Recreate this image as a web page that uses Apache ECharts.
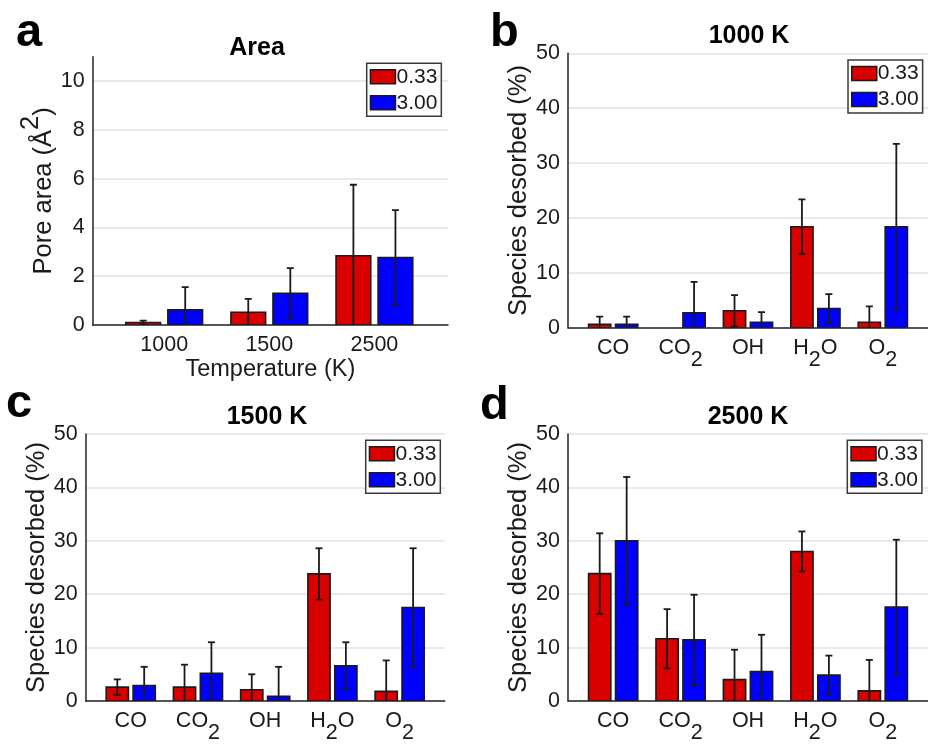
<!DOCTYPE html>
<html><head><meta charset="utf-8">
<script src="https://cdn.jsdelivr.net/npm/echarts@6/dist/echarts.min.js"></script>
<style>html,body{margin:0;padding:0;background:#fff}#c{width:928px;height:744px}</style>
</head><body><div id="c"></div>
<script>
// ---------- data ----------
const temperatures = ['1000', '1500', '2500'];
const areaMean033 = [0.10, 0.52, 2.84];
const areaErr033  = [0.08, 0.55, 2.91];
const areaMean300 = [0.62, 1.30, 2.77];
const areaErr300  = [0.93, 1.03, 1.94];

const species = ['CO', 'CO2', 'OH', 'H2O', 'O2'];
const k1000Mean033 = [0.6, 0, 3.1, 18.4, 1.0];
const k1000Err033  = [1.4, 0, 2.85, 5.0, 2.9];
const k1000Mean300 = [0.6, 2.7, 1.0, 3.5, 18.4];
const k1000Err300  = [1.4, 5.65, 1.85, 2.6, 15.1];

const k1500Mean033 = [2.6, 2.6, 2.1, 23.8, 1.8];
const k1500Err033  = [1.45, 4.2, 2.9, 4.8, 5.8];
const k1500Mean300 = [2.9, 5.2, 0.9, 6.6, 17.5];
const k1500Err300  = [3.5, 5.8, 5.5, 4.4, 11.1];

const k2500Mean033 = [23.85, 11.65, 4.0, 28.0, 1.9];
const k2500Err033  = [7.55, 5.55, 5.6, 3.75, 5.8];
const k2500Mean300 = [30.0, 11.45, 5.5, 4.85, 17.6];
const k2500Err300  = [11.95, 8.45, 6.9, 3.65, 12.6];

const ratioNames = ['0.33', '3.00'];
const panelTitles = ['Area', '1000 K', '1500 K', '2500 K'];
const panelLetters = ['a', 'b', 'c', 'd'];

// ---------- style ----------
const FONT = '"Liberation Sans", Arial, Helvetica, sans-serif';
const RED = '#d90000', BLUE = '#0000ff';
const EDGE = '#1a1a1a';
const BW = 0.33, OFF = 0.2, CAP = 3.5;
const TICK_FS = 21.5, NAME_FS = 25.5, XNAME_FS = 23.5, TITLE_FS = 25;

function barSeries(idx, name, color, means, errs, offset) {
  return {
    type: 'custom', name: name, xAxisIndex: idx, yAxisIndex: idx, clip: true,
    itemStyle: { color: color },
    data: means.map((m, i) => [i + 1, m, errs[i]]),
    encode: { x: 0, y: 1 },
    renderItem: function (params, api) {
      const x = api.value(0) + offset, m = api.value(1), e = api.value(2);
      const ch = [];
      if (m > 0) {
        const p0 = api.coord([x - BW / 2, 0]);
        const p1 = api.coord([x + BW / 2, m]);
        ch.push({ type: 'rect', shape: { x: p0[0], y: p1[1], width: p1[0] - p0[0], height: p0[1] - p1[1] },
          style: { fill: color, stroke: EDGE, lineWidth: 1.6 } });
      }
      if (e > 0) {
        const top = api.coord([x, m + e]);
        const bot = api.coord([x, m - e]);
        const ls = { stroke: EDGE, lineWidth: 1.8 };
        ch.push({ type: 'line', shape: { x1: top[0], y1: top[1], x2: bot[0], y2: bot[1] }, style: ls });
        ch.push({ type: 'line', shape: { x1: top[0] - CAP, y1: top[1], x2: top[0] + CAP, y2: top[1] }, style: ls });
        ch.push({ type: 'line', shape: { x1: bot[0] - CAP, y1: bot[1], x2: bot[0] + CAP, y2: bot[1] }, style: ls });
      }
      return { type: 'group', children: ch };
    }
  };
}

function richName(s) {
  return s.replace(/([^0-9]+)/g, '{m|$1}').replace(/([0-9]+)/g, '{s|$1}');
}

const grids = [
  { left: 92.7, top: 56.7, width: 355.3, height: 268.3 },
  { left: 568, top: 53.3, width: 360, height: 274.4 },
  { left: 85.7, top: 434, width: 359, height: 274 },
  { left: 568, top: 434, width: 360, height: 274.7 }
];

function xAxisFor(idx, cats, min, max, isSpecies) {
  return {
    type: 'value', gridIndex: idx, min: min, max: max,
    axisLine: { show: true, onZero: false, lineStyle: { color: '#262626', width: 1.5 } },
    axisTick: { show: false },
    splitLine: { show: false },
    axisLabel: {
      customValues: cats.map((c, i) => i + 1),
      margin: 9,
      color: '#1a1a1a', fontFamily: FONT, fontSize: TICK_FS, lineHeight: 22,
      formatter: v => isSpecies ? richName(cats[Math.round(v) - 1]) : cats[Math.round(v) - 1],
      rich: {
        m: { fontFamily: FONT, fontSize: TICK_FS, lineHeight: 22, verticalAlign: 'top', color: '#1a1a1a' },
        s: { fontFamily: FONT, fontSize: TICK_FS, lineHeight: 22, verticalAlign: 'top', color: '#1a1a1a', padding: [12, 0, 0, 0] }
      }
    }
  };
}

function yAxisFor(idx, max, interval, name, gap) {
  return {
    type: 'value', gridIndex: idx, min: 0, max: max, interval: interval,
    name: name, nameLocation: 'middle', nameGap: gap, nameRotate: 90,
    nameTextStyle: {
      fontFamily: FONT, fontSize: NAME_FS, color: '#1a1a1a', lineHeight: 26,
      rich: {
        m: { fontFamily: FONT, fontSize: NAME_FS, lineHeight: 26, verticalAlign: 'bottom', color: '#1a1a1a' },
        sup: { fontFamily: FONT, fontSize: NAME_FS, lineHeight: 26, verticalAlign: 'bottom', color: '#1a1a1a', padding: [0, 0, 13, 0] }
      }
    },
    axisLine: { show: true, lineStyle: { color: '#262626', width: 1.5 } },
    axisTick: { show: false },
    axisLabel: { color: '#1a1a1a', fontFamily: FONT, fontSize: TICK_FS, margin: 8, showMaxLabel: max % interval === 0,
      formatter: v => (v > max - 1e-9 && max % interval !== 0) ? '' : String(v) },
    splitLine: { show: true, showMaxLine: max % interval === 0, lineStyle: { color: '#e2e2e2', width: 1.5 } }
  };
}

const legendPos = [
  { left: 366.7, top: 63.3 }, { left: 848, top: 60 }, { left: 365.7, top: 440.3 }, { left: 847.3, top: 440.3 }
];

const legends = legendPos.map(p => ({
  left: p.left, top: p.top, orient: 'vertical', data: ratioNames,
  icon: 'rect', itemWidth: 25, itemHeight: 14, itemGap: 5,
  padding: [3, 4, 3, 3], borderColor: '#3a3a3a', borderWidth: 1.5, backgroundColor: '#fff',
  itemStyle: { borderColor: EDGE, borderWidth: 1.5 },
  textStyle: { fontFamily: FONT, fontSize: 21, color: '#1a1a1a', padding: [0, 0, 0, -4] },
  selectedMode: false
}));

const graphics = [];
const letterPos = [[16, 33.4], [490, 33.4], [6, 404], [480, 406]];
letterPos.forEach((p, i) => graphics.push({ type: 'text', x: p[0], y: p[1],
  style: { text: panelLetters[i], font: 'bold 47px ' + FONT, fill: '#000', align: 'left', verticalAlign: 'middle' } }));
const titlePos = [[257, 48.2], [749, 36.5], [267, 417], [748, 417]];
titlePos.forEach((p, i) => graphics.push({ type: 'text', x: p[0], y: p[1],
  style: { text: panelTitles[i], font: 'bold ' + TITLE_FS + 'px ' + FONT, fill: '#000', align: 'center', verticalAlign: 'middle' } }));

const xA = xAxisFor(0, temperatures, 0.32, 3.70, false);
xA.name = 'Temperature (K)';
xA.nameLocation = 'middle';
xA.nameGap = 33;
xA.nameTextStyle = { fontFamily: FONT, fontSize: XNAME_FS, color: '#1a1a1a', lineHeight: 24 };

const option = {
  backgroundColor: '#fff',
  animation: false,
  grid: grids,
  legend: legends,
  graphic: graphics,
  xAxis: [
    xA,
    xAxisFor(1, species, 0.33, 5.67, true),
    xAxisFor(2, species, 0.33, 5.67, true),
    xAxisFor(3, species, 0.33, 5.67, true)
  ],
  yAxis: [
    yAxisFor(0, 11, 2, '{m|Pore area (Å}{sup|2}{m|)}', 35.5),
    yAxisFor(1, 50, 10, 'Species desorbed (%)', 34),
    yAxisFor(2, 50, 10, 'Species desorbed (%)', 33.7),
    yAxisFor(3, 50, 10, 'Species desorbed (%)', 34)
  ],
  series: [
    barSeries(0, ratioNames[0], RED, areaMean033, areaErr033, -OFF),
    barSeries(0, ratioNames[1], BLUE, areaMean300, areaErr300, OFF),
    barSeries(1, ratioNames[0], RED, k1000Mean033, k1000Err033, -OFF),
    barSeries(1, ratioNames[1], BLUE, k1000Mean300, k1000Err300, OFF),
    barSeries(2, ratioNames[0], RED, k1500Mean033, k1500Err033, -OFF),
    barSeries(2, ratioNames[1], BLUE, k1500Mean300, k1500Err300, OFF),
    barSeries(3, ratioNames[0], RED, k2500Mean033, k2500Err033, -OFF),
    barSeries(3, ratioNames[1], BLUE, k2500Mean300, k2500Err300, OFF)
  ]
};

const chart = echarts.init(document.getElementById('c'), null, { renderer: 'canvas' });
chart.setOption(option);
</script>
</body></html>
